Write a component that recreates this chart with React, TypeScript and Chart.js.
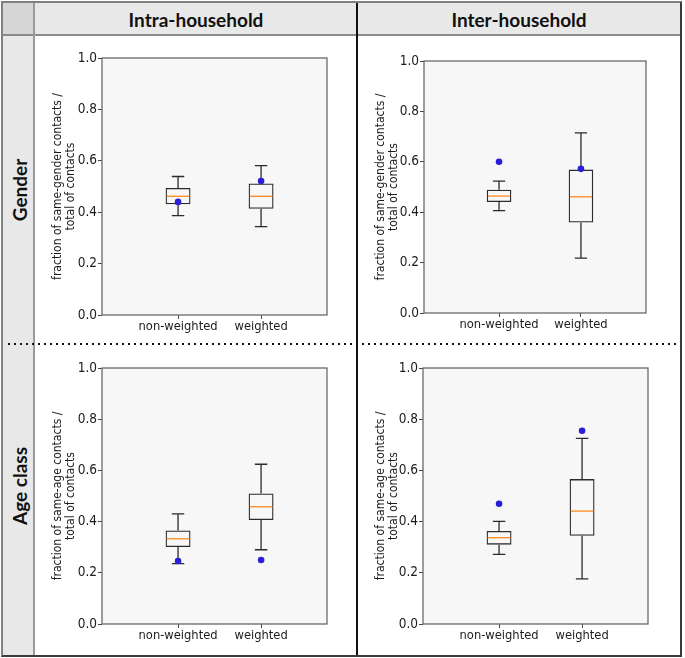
import React, { useEffect, useRef } from 'react';
import { Chart, registerables } from 'chart.js';

Chart.register(...registerables);

// ---------- data ----------
const COLUMN_HEADERS = ['Intra-household', 'Inter-household'];
const ROW_HEADERS = ['Gender', 'Age class'];
const CATEGORIES = ['non-weighted', 'weighted'];
const POSITIONS = [1, 2];
const Y_TICKS = [0, 0.2, 0.4, 0.6, 0.8, 1.0];
const Y_TITLE_GENDER = ['fraction of same-gender contacts /', 'total of contacts'];
const Y_TITLE_AGE = ['fraction of same-age contacts /', 'total of contacts'];

// Gender - intra-household
const GENDER_INTRA_LOW = [0.387, 0.344];
const GENDER_INTRA_Q1 = [0.431, 0.413];
const GENDER_INTRA_MED = [0.462, 0.462];
const GENDER_INTRA_Q3 = [0.494, 0.512];
const GENDER_INTRA_HIGH = [0.539, 0.581];
const GENDER_INTRA_DOT = [0.44, 0.521];

// Gender - inter-household
const GENDER_INTER_LOW = [0.406, 0.218];
const GENDER_INTER_Q1 = [0.44, 0.359];
const GENDER_INTER_MED = [0.464, 0.461];
const GENDER_INTER_Q3 = [0.489, 0.569];
const GENDER_INTER_HIGH = [0.523, 0.715];
const GENDER_INTER_DOT = [0.6, 0.572];

// Age class - intra-household
const AGE_INTRA_LOW = [0.236, 0.29];
const AGE_INTRA_Q1 = [0.301, 0.406];
const AGE_INTRA_MED = [0.333, 0.458];
const AGE_INTRA_Q3 = [0.365, 0.51];
const AGE_INTRA_HIGH = [0.43, 0.624];
const AGE_INTRA_DOT = [0.246, 0.25];

// Age class - inter-household
const AGE_INTER_LOW = [0.272, 0.176];
const AGE_INTER_Q1 = [0.31, 0.345];
const AGE_INTER_MED = [0.337, 0.441];
const AGE_INTER_Q3 = [0.363, 0.566];
const AGE_INTER_HIGH = [0.401, 0.725];
const AGE_INTER_DOT = [0.47, 0.755];

// ---------- styles ----------
const X_MIN = 0.084;
const X_MAX = 2.794;
const BOX_HALF = 0.15;
const CAP_HALF = 0.075;
const BLUE = '#2a1ed6';
const ORANGE = '#ff7f0e';
const LINE = '#2b2b2b';
const TEXT = '#1c1c1c';
const PLOT_BG = '#f7f7f7';
const FONT = "'DejaVu Sans Condensed', 'DejaVu Sans', sans-serif";

type Stats = {
  low: number[];
  q1: number[];
  med: number[];
  q3: number[];
  high: number[];
  dot: number[];
};

type Cell = { left: number; top: number; width: number; height: number };
type Plot = { l: number; t: number; r: number; b: number };

function BoxPanel({ cell, plot, stats, yTitle }: { cell: Cell; plot: Plot; stats: Stats; yTitle: string[] }) {
  const ref = useRef<HTMLCanvasElement>(null);

  useEffect(() => {
    if (!ref.current) return;
    const yAxisW = plot.l - cell.left;
    const padR = cell.left + cell.width - plot.r;
    const padT = plot.t - cell.top;
    const xAxisH = cell.top + cell.height - plot.b;

    const boxPlugin = {
      id: 'boxExtras',
      beforeDraw(chart: any) {
        const { ctx, chartArea: a } = chart;
        ctx.save();
        ctx.fillStyle = PLOT_BG;
        ctx.fillRect(a.left, a.top, a.right - a.left, a.bottom - a.top);
        ctx.restore();
      },
      afterDatasetDraw(chart: any, args: any) {
        if (args.index !== 0) return;
        const { ctx } = chart;
        const xs = chart.scales.x;
        const ys = chart.scales.y;
        ctx.save();
        POSITIONS.forEach((p, i) => {
          const cx = xs.getPixelForValue(p);
          const c0 = xs.getPixelForValue(p - CAP_HALF);
          const c1 = xs.getPixelForValue(p + CAP_HALF);
          const b0 = xs.getPixelForValue(p - BOX_HALF);
          const b1 = xs.getPixelForValue(p + BOX_HALF);
          ctx.lineWidth = 1.3;
          ctx.strokeStyle = LINE;
          ctx.beginPath();
          ctx.moveTo(cx, ys.getPixelForValue(stats.q1[i]));
          ctx.lineTo(cx, ys.getPixelForValue(stats.low[i]));
          ctx.moveTo(cx, ys.getPixelForValue(stats.q3[i]));
          ctx.lineTo(cx, ys.getPixelForValue(stats.high[i]));
          ctx.moveTo(c0, ys.getPixelForValue(stats.low[i]));
          ctx.lineTo(c1, ys.getPixelForValue(stats.low[i]));
          ctx.moveTo(c0, ys.getPixelForValue(stats.high[i]));
          ctx.lineTo(c1, ys.getPixelForValue(stats.high[i]));
          ctx.stroke();
          ctx.strokeStyle = ORANGE;
          ctx.lineWidth = 1.2;
          ctx.beginPath();
          ctx.moveTo(b0 + 1, ys.getPixelForValue(stats.med[i]));
          ctx.lineTo(b1 - 1, ys.getPixelForValue(stats.med[i]));
          ctx.stroke();
        });
        ctx.restore();
      },
      afterDraw(chart: any) {
        const { ctx, chartArea: a } = chart;
        ctx.save();
        ctx.strokeStyle = '#6a6a6a';
        ctx.lineWidth = 1.3;
        ctx.strokeRect(a.left, a.top, a.right - a.left, a.bottom - a.top);
        ctx.restore();
      },
    };

    const chart = new Chart(ref.current, {
      type: 'scatter',
      data: {
        datasets: [
          {
            type: 'bar',
            data: POSITIONS.map((p, i) => ({ x: p, y: [stats.q1[i], stats.q3[i]] })),
            backgroundColor: 'rgba(0,0,0,0)',
            borderColor: LINE,
            borderWidth: 1.3,
            borderSkipped: false,
            barPercentage: 0.3,
            categoryPercentage: 1,
            order: 2,
          } as any,
          {
            type: 'scatter',
            data: POSITIONS.map((p, i) => ({ x: p, y: stats.dot[i] })),
            backgroundColor: BLUE,
            borderColor: BLUE,
            borderWidth: 0,
            pointRadius: 3.3,
            order: 1,
          } as any,
        ],
      },
      options: {
        responsive: false,
        animation: false,
        devicePixelRatio: 1,
        layout: { padding: { left: 0, right: padR, top: padT, bottom: 0 } },
        plugins: { legend: { display: false }, tooltip: { enabled: false } },
        scales: {
          x: {
            type: 'linear',
            min: X_MIN,
            max: X_MAX,
            offset: false,
            afterBuildTicks: (axis: any) => {
              axis.ticks = POSITIONS.map((v) => ({ value: v }));
            },
            afterFit: (axis: any) => {
              axis.height = xAxisH;
            },
            grid: { offset: false, drawOnChartArea: false, drawTicks: true, tickLength: 4, color: '#444', lineWidth: 1 },
            border: { display: false },
            ticks: {
              autoSkip: false,
              maxRotation: 0,
              padding: 0,
              color: TEXT,
              font: { family: FONT, size: 12.8 },
              callback: (v: any) => CATEGORIES[POSITIONS.indexOf(Number(v))] ?? '',
            },
          },
          y: {
            type: 'linear',
            min: 0,
            max: 1,
            afterBuildTicks: (axis: any) => {
              axis.ticks = Y_TICKS.map((v) => ({ value: v }));
            },
            afterFit: (axis: any) => {
              axis.width = yAxisW;
            },
            grid: { drawOnChartArea: false, drawTicks: true, tickLength: 4, color: '#444', lineWidth: 1 },
            border: { display: false },
            ticks: {
              padding: 1,
              color: TEXT,
              font: { family: FONT, size: 13.5 },
              callback: (v: any) => Number(v).toFixed(1),
            },
            title: {
              display: true,
              text: yTitle,
              color: TEXT,
              font: { family: FONT, size: 12, lineHeight: 1.06 },
              padding: { top: 15.3, bottom: 0 },
            },
          },
        },
      } as any,
      plugins: [boxPlugin],
    });
    return () => chart.destroy();
  }, []);

  return (
    <canvas
      ref={ref}
      width={cell.width}
      height={cell.height}
      style={{ position: 'absolute', left: cell.left, top: cell.top, width: cell.width, height: cell.height }}
    />
  );
}

const HEADER_FONT = "Lato, 'Open Sans', sans-serif";

export default function App() {
  const abs = (s: any) => ({ position: 'absolute' as const, ...s });
  return (
    <div style={abs({ left: 0, top: 0, width: 685, height: 658, background: '#fff', overflow: 'hidden' })}>
      {/* header backgrounds */}
      <div style={abs({ left: 3, top: 3, width: 677, height: 32, background: '#e8e8e8' })} />
      <div style={abs({ left: 3, top: 3, width: 31, height: 32, background: '#d6d6d6' })} />
      {/* left column background */}
      <div style={abs({ left: 3, top: 35, width: 31, height: 620, background: '#e8e8e8' })} />

      {/* charts */}
      <BoxPanel
        cell={{ left: 36, top: 36, width: 320, height: 307 }}
        plot={{ l: 102, t: 58, r: 327, b: 315 }}
        stats={{ low: GENDER_INTRA_LOW, q1: GENDER_INTRA_Q1, med: GENDER_INTRA_MED, q3: GENDER_INTRA_Q3, high: GENDER_INTRA_HIGH, dot: GENDER_INTRA_DOT }}
        yTitle={Y_TITLE_GENDER}
      />
      <BoxPanel
        cell={{ left: 359, top: 36, width: 321, height: 307 }}
        plot={{ l: 424, t: 61, r: 646, b: 313 }}
        stats={{ low: GENDER_INTER_LOW, q1: GENDER_INTER_Q1, med: GENDER_INTER_MED, q3: GENDER_INTER_Q3, high: GENDER_INTER_HIGH, dot: GENDER_INTER_DOT }}
        yTitle={Y_TITLE_GENDER}
      />
      <BoxPanel
        cell={{ left: 36, top: 346, width: 320, height: 308 }}
        plot={{ l: 102, t: 368, r: 327, b: 624 }}
        stats={{ low: AGE_INTRA_LOW, q1: AGE_INTRA_Q1, med: AGE_INTRA_MED, q3: AGE_INTRA_Q3, high: AGE_INTRA_HIGH, dot: AGE_INTRA_DOT }}
        yTitle={Y_TITLE_AGE}
      />
      <BoxPanel
        cell={{ left: 359, top: 346, width: 321, height: 308 }}
        plot={{ l: 423, t: 368, r: 648, b: 624 }}
        stats={{ low: AGE_INTER_LOW, q1: AGE_INTER_Q1, med: AGE_INTER_MED, q3: AGE_INTER_Q3, high: AGE_INTER_HIGH, dot: AGE_INTER_DOT }}
        yTitle={Y_TITLE_AGE}
      />

      {/* header texts */}
      <div style={abs({ left: 35, top: 3, width: 322, height: 32, display: 'flex', alignItems: 'center', justifyContent: 'center', fontFamily: HEADER_FONT, fontWeight: 700, fontSize: 19, color: '#111' })}>
        {COLUMN_HEADERS[0]}
      </div>
      <div style={abs({ left: 358, top: 3, width: 322, height: 32, display: 'flex', alignItems: 'center', justifyContent: 'center', fontFamily: HEADER_FONT, fontWeight: 700, fontSize: 19, color: '#111' })}>
        {COLUMN_HEADERS[1]}
      </div>
      {/* row labels */}
      <div style={abs({ left: 18.5, top: 190, width: 0, height: 0 })}>
        <div style={{ position: 'absolute', left: 0, top: 0, transform: 'translate(-50%, -50%) rotate(-90deg)', whiteSpace: 'nowrap', fontFamily: HEADER_FONT, fontWeight: 700, fontSize: 19, color: '#111' }}>
          {ROW_HEADERS[0]}
        </div>
      </div>
      <div style={abs({ left: 18.5, top: 486, width: 0, height: 0 })}>
        <div style={{ position: 'absolute', left: 0, top: 0, transform: 'translate(-50%, -50%) rotate(-90deg)', whiteSpace: 'nowrap', fontFamily: HEADER_FONT, fontWeight: 700, fontSize: 19, color: '#111' }}>
          {ROW_HEADERS[1]}
        </div>
      </div>

      {/* grid lines */}
      <div style={abs({ left: 3, top: 34, width: 677, height: 2, background: '#8a8a8a' })} />
      <div style={abs({ left: 33, top: 3, width: 2, height: 652, background: '#9a9a9a' })} />
      <div style={abs({ left: 8, top: 343, width: 672, height: 2, background: 'repeating-linear-gradient(to right, #111 0px, #111 2px, transparent 2px, transparent 6px)' })} />
      <div style={abs({ left: 356, top: 1, width: 2, height: 655, background: '#111' })} />
      {/* outer frame */}
      <div style={abs({ left: 1, top: 1, width: 681, height: 656, border: '2px solid', borderColor: '#808080 #3a3a3a #3a3a3a #808080', boxSizing: 'border-box' })} />
    </div>
  );
}
